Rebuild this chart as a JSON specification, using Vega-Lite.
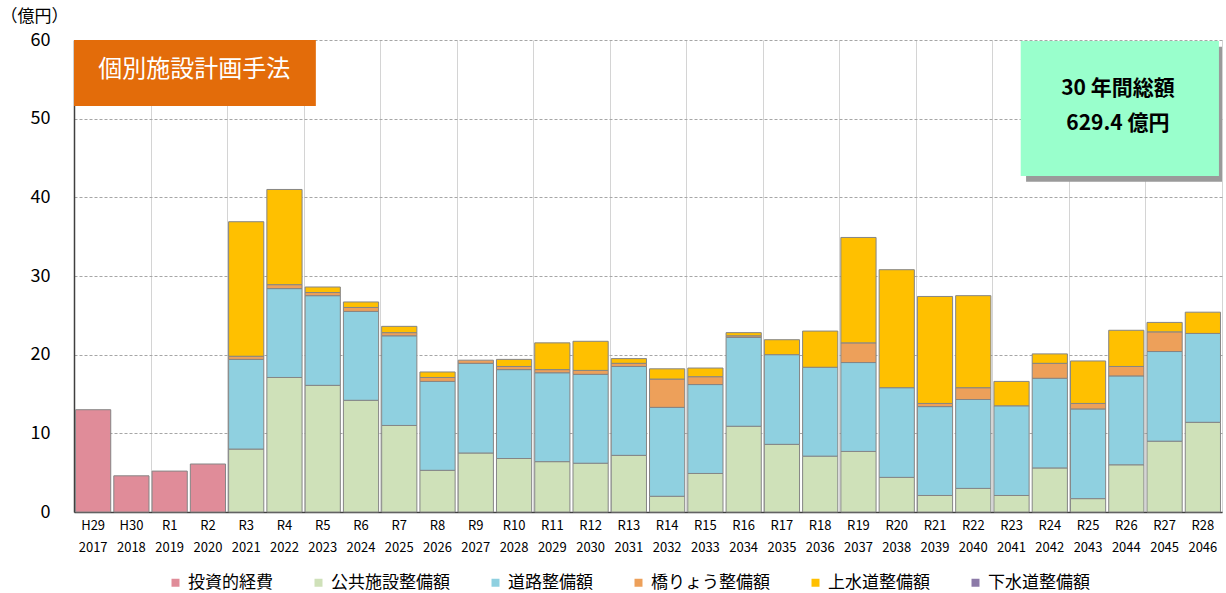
{
  "$schema": "https://vega.github.io/schema/vega-lite/v6.json",
  "width": 1148,
  "height": 472,
  "autosize": {"type": "none"},
  "padding": {"left": 74, "top": 40, "right": 4, "bottom": 81},
  "background": "white",
  "config": {
    "font": "Noto Sans CJK JP",
    "view": {"stroke": null},
    "axis": {"labelFont": "Noto Sans CJK JP", "titleFont": "Noto Sans CJK JP", "labelColor": "#000000", "titleColor": "#000000"}
  },
  "layer": [
    {
      "data": {
        "values": [
          {"cat": "H29 2017", "投資的経費": 13.0, "公共施設整備額": 0, "道路整備額": 0, "橋りょう整備額": 0, "上水道整備額": 0, "下水道整備額": 0},
          {"cat": "H30 2018", "投資的経費": 4.6, "公共施設整備額": 0, "道路整備額": 0, "橋りょう整備額": 0, "上水道整備額": 0, "下水道整備額": 0},
          {"cat": "R1 2019", "投資的経費": 5.2, "公共施設整備額": 0, "道路整備額": 0, "橋りょう整備額": 0, "上水道整備額": 0, "下水道整備額": 0},
          {"cat": "R2 2020", "投資的経費": 6.1, "公共施設整備額": 0, "道路整備額": 0, "橋りょう整備額": 0, "上水道整備額": 0, "下水道整備額": 0},
          {"cat": "R3 2021", "投資的経費": 0, "公共施設整備額": 8.0, "道路整備額": 11.4, "橋りょう整備額": 0.4, "上水道整備額": 17.1, "下水道整備額": 0},
          {"cat": "R4 2022", "投資的経費": 0, "公共施設整備額": 17.1, "道路整備額": 11.3, "橋りょう整備額": 0.5, "上水道整備額": 12.1, "下水道整備額": 0},
          {"cat": "R5 2023", "投資的経費": 0, "公共施設整備額": 16.1, "道路整備額": 11.4, "橋りょう整備額": 0.4, "上水道整備額": 0.7, "下水道整備額": 0},
          {"cat": "R6 2024", "投資的経費": 0, "公共施設整備額": 14.2, "道路整備額": 11.3, "橋りょう整備額": 0.5, "上水道整備額": 0.7, "下水道整備額": 0},
          {"cat": "R7 2025", "投資的経費": 0, "公共施設整備額": 11.0, "道路整備額": 11.4, "橋りょう整備額": 0.4, "上水道整備額": 0.8, "下水道整備額": 0},
          {"cat": "R8 2026", "投資的経費": 0, "公共施設整備額": 5.3, "道路整備額": 11.3, "橋りょう整備額": 0.5, "上水道整備額": 0.7, "下水道整備額": 0},
          {"cat": "R9 2027", "投資的経費": 0, "公共施設整備額": 7.5, "道路整備額": 11.4, "橋りょう整備額": 0.4, "上水道整備額": 0, "下水道整備額": 0},
          {"cat": "R10 2028", "投資的経費": 0, "公共施設整備額": 6.8, "道路整備額": 11.3, "橋りょう整備額": 0.4, "上水道整備額": 0.9, "下水道整備額": 0},
          {"cat": "R11 2029", "投資的経費": 0, "公共施設整備額": 6.4, "道路整備額": 11.3, "橋りょう整備額": 0.4, "上水道整備額": 3.4, "下水道整備額": 0},
          {"cat": "R12 2030", "投資的経費": 0, "公共施設整備額": 6.2, "道路整備額": 11.3, "橋りょう整備額": 0.5, "上水道整備額": 3.7, "下水道整備額": 0},
          {"cat": "R13 2031", "投資的経費": 0, "公共施設整備額": 7.2, "道路整備額": 11.3, "橋りょう整備額": 0.4, "上水道整備額": 0.6, "下水道整備額": 0},
          {"cat": "R14 2032", "投資的経費": 0, "公共施設整備額": 2.0, "道路整備額": 11.3, "橋りょう整備額": 3.6, "上水道整備額": 1.3, "下水道整備額": 0},
          {"cat": "R15 2033", "投資的経費": 0, "公共施設整備額": 4.9, "道路整備額": 11.3, "橋りょう整備額": 1.0, "上水道整備額": 1.1, "下水道整備額": 0},
          {"cat": "R16 2034", "投資的経費": 0, "公共施設整備額": 10.9, "道路整備額": 11.3, "橋りょう整備額": 0.2, "上水道整備額": 0.4, "下水道整備額": 0},
          {"cat": "R17 2035", "投資的経費": 0, "公共施設整備額": 8.6, "道路整備額": 11.4, "橋りょう整備額": 0, "上水道整備額": 1.9, "下水道整備額": 0},
          {"cat": "R18 2036", "投資的経費": 0, "公共施設整備額": 7.1, "道路整備額": 11.3, "橋りょう整備額": 0, "上水道整備額": 4.6, "下水道整備額": 0},
          {"cat": "R19 2037", "投資的経費": 0, "公共施設整備額": 7.7, "道路整備額": 11.3, "橋りょう整備額": 2.5, "上水道整備額": 13.4, "下水道整備額": 0},
          {"cat": "R20 2038", "投資的経費": 0, "公共施設整備額": 4.4, "道路整備額": 11.4, "橋りょう整備額": 0, "上水道整備額": 15.0, "下水道整備額": 0},
          {"cat": "R21 2039", "投資的経費": 0, "公共施設整備額": 2.1, "道路整備額": 11.3, "橋りょう整備額": 0.4, "上水道整備額": 13.6, "下水道整備額": 0},
          {"cat": "R22 2040", "投資的経費": 0, "公共施設整備額": 3.0, "道路整備額": 11.3, "橋りょう整備額": 1.5, "上水道整備額": 11.7, "下水道整備額": 0},
          {"cat": "R23 2041", "投資的経費": 0, "公共施設整備額": 2.1, "道路整備額": 11.4, "橋りょう整備額": 0, "上水道整備額": 3.1, "下水道整備額": 0},
          {"cat": "R24 2042", "投資的経費": 0, "公共施設整備額": 5.6, "道路整備額": 11.4, "橋りょう整備額": 1.9, "上水道整備額": 1.2, "下水道整備額": 0},
          {"cat": "R25 2043", "投資的経費": 0, "公共施設整備額": 1.7, "道路整備額": 11.4, "橋りょう整備額": 0.7, "上水道整備額": 5.4, "下水道整備額": 0},
          {"cat": "R26 2044", "投資的経費": 0, "公共施設整備額": 6.0, "道路整備額": 11.3, "橋りょう整備額": 1.2, "上水道整備額": 4.6, "下水道整備額": 0},
          {"cat": "R27 2045", "投資的経費": 0, "公共施設整備額": 9.0, "道路整備額": 11.4, "橋りょう整備額": 2.5, "上水道整備額": 1.2, "下水道整備額": 0},
          {"cat": "R28 2046", "投資的経費": 0, "公共施設整備額": 11.4, "道路整備額": 11.3, "橋りょう整備額": 0, "上水道整備額": 2.7, "下水道整備額": 0}
        ]
      },
      "transform": [
        {"fold": ["投資的経費", "公共施設整備額", "道路整備額", "橋りょう整備額", "上水道整備額", "下水道整備額"], "as": ["s", "v"]},
        {"window": [{"op": "row_number", "as": "k"}], "groupby": ["cat"]},
        {"filter": "datum.v > 0"}
      ],
      "mark": {"type": "bar", "stroke": "#858585", "strokeWidth": 1},
      "encoding": {
        "x": {
          "field": "cat", "type": "nominal", "sort": null, "title": null,
          "scale": {"paddingInner": 0.08, "paddingOuter": 0.04},
          "axis": {
            "grid": false, "ticks": false, "domain": true, "domainColor": "#404040", "domainWidth": 1.5,
            "labelAngle": 0, "labelExpr": "split(datum.label, ' ')", "labelFontSize": 13, "labelLineHeight": 22,
            "labelBaseline": "top", "labelPadding": 7
          }
        },
        "y": {
          "field": "v", "type": "quantitative", "stack": "zero",
          "scale": {"domain": [0, 60], "nice": false},
          "title": "（億円）",
          "axis": {
            "values": [0, 10, 20, 30, 40, 50, 60], "grid": true, "gridDash": [3, 2], "gridColor": "#a6a6a6",
            "ticks": false, "domain": true, "domainColor": "#404040", "domainWidth": 1.5,
            "labelFontSize": 18, "labelPadding": 24,
            "titleAngle": 0, "titleX": -40, "titleY": -24, "titleAlign": "center", "titleBaseline": "middle",
            "titleFontSize": 17, "titleFontWeight": "normal"
          }
        },
        "order": {"field": "k", "type": "quantitative", "sort": "ascending"},
        "color": {
          "field": "s", "type": "nominal",
          "scale": {
            "domain": ["投資的経費", "公共施設整備額", "道路整備額", "橋りょう整備額", "上水道整備額", "下水道整備額"],
            "range": ["#e08c99", "#cfe1b9", "#8fd0e0", "#eda05a", "#ffc000", "#8c7aa8"]
          },
          "legend": {
            "title": null, "orient": "none", "direction": "horizontal", "legendX": 93, "legendY": 534, "padding": 0,
            "symbolType": "square", "symbolSize": 64, "symbolStrokeWidth": 0, "labelFontSize": 17,
            "labelOffset": 4, "columnPadding": 37, "labelFont": "Noto Sans CJK JP", "labelColor": "#000000"
          }
        }
      }
    },
    {
      "data": {"values": [{}]},
      "layer": [
        {
          "mark": {"type": "rect", "fill": "#9a9a9a"},
          "encoding": {
            "x": {
              "datum": 24.88, "type": "quantitative", "title": null,
              "scale": {"domain": [0, 30], "nice": false, "zero": false},
              "axis": {
                "values": [0, 0.5, 1, 1.5, 2, 2.5, 3, 3.5, 4, 4.5, 5, 5.5, 6, 6.5, 7, 7.5, 8, 8.5, 9, 9.5, 10, 10.5, 11, 11.5, 12, 12.5, 13, 13.5, 14, 14.5, 15, 15.5, 16, 16.5, 17, 17.5, 18, 18.5, 19, 19.5, 20, 20.5, 21, 21.5, 22, 22.5, 23, 23.5, 24, 24.5, 25, 25.5, 26, 26.5, 27, 27.5, 28, 28.5, 29, 29.5, 30],
                "grid": true, "gridColor": {"condition": {"test": "datum.value % 1 === 0", "value": "#d4d4d4"}, "value": "#ececec"},
                "labels": false, "ticks": false, "domain": false, "title": null
              }
            },
            "x2": {"datum": 30.0},
            "y": {"datum": 59.15, "type": "quantitative", "title": null},
            "y2": {"datum": 41.99}
          }
        },
        {
          "mark": {"type": "rect", "fill": "#99ffcc"},
          "encoding": {
            "x": {"datum": 24.74, "type": "quantitative", "title": null},
            "x2": {"datum": 29.92},
            "y": {"datum": 59.87, "type": "quantitative", "title": null},
            "y2": {"datum": 42.71}
          }
        },
        {
          "mark": {"type": "rect", "fill": "#e36c0a"},
          "encoding": {
            "x": {"datum": 0, "type": "quantitative", "title": null},
            "x2": {"datum": 6.32},
            "y": {"datum": 60, "type": "quantitative", "title": null},
            "y2": {"datum": 51.6}
          }
        },
        {
          "mark": {"type": "text", "text": "個別施設計画手法", "color": "#ffffff", "fontSize": 24, "font": "Noto Sans CJK JP", "align": "center", "baseline": "middle"},
          "encoding": {
            "x": {"datum": 3.14, "type": "quantitative", "title": null},
            "y": {"datum": 56.2, "type": "quantitative", "title": null}
          }
        },
        {
          "mark": {"type": "text", "text": "30 年間総額", "color": "#000000", "fontSize": 21, "fontWeight": "bold", "font": "Noto Sans CJK JP", "align": "center", "baseline": "middle"},
          "encoding": {
            "x": {"datum": 27.28, "type": "quantitative", "title": null},
            "y": {"datum": 53.83, "type": "quantitative", "title": null}
          }
        },
        {
          "mark": {"type": "text", "text": "629.4 億円", "color": "#000000", "fontSize": 21, "fontWeight": "bold", "font": "Noto Sans CJK JP", "align": "center", "baseline": "middle"},
          "encoding": {
            "x": {"datum": 27.28, "type": "quantitative", "title": null},
            "y": {"datum": 49.38, "type": "quantitative", "title": null}
          }
        }
      ]
    }
  ],
  "resolve": {"scale": {"x": "independent"}}
}
